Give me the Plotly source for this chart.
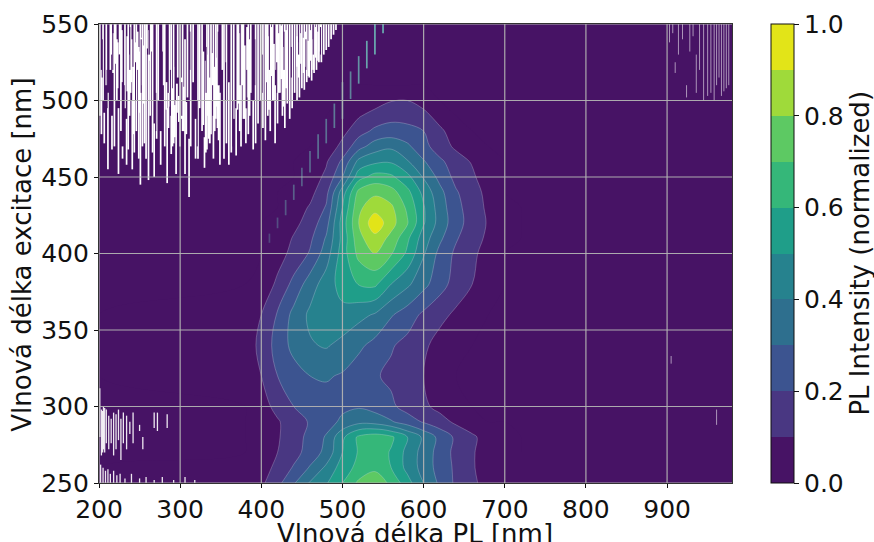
import plotly.graph_objects as go

FONT = "DejaVu Sans"

em_nm = [200, 380, 400, 420, 440, 460, 480, 500, 520, 540, 560, 580, 600, 620, 640, 660, 680, 700, 720, 980]
ex_nm = [250, 260, 270, 280, 290, 300, 320, 340, 360, 380, 400, 410, 420, 430, 440, 450, 460, 470, 480, 490, 500, 510, 550]

r250 = [0, .02, .08, .17, .29, .41, .49, .60, .72, .76, .68, .54, .40, .28, .18, .12, .06, .01, 0, 0]
r260 = [0, .01, .05, .13, .21, .31, .42, .55, .63, .68, .60, .47, .36, .26, .18, .11, .05, .01, 0, 0]
r270 = [0, 0, .03, .10, .165, .24, .33, .50, .61, .66, .59, .47, .36, .26, .17, .11, .05, .01, 0, 0]
r280 = [0, 0, .02, .09, .155, .23, .31, .48, .62, .66, .62, .50, .38, .27, .18, .12, .05, .01, 0, 0]
r290 = [0, 0, .02, .09, .15, .21, .26, .32, .37, .36, .31, .25, .19, .14, .08, .03, 0, 0, 0, 0]
r300 = [0, 0, .06, .13, .20, .24, .26, .28, .29, .26, .22, .16, .12, .07, .02, 0, 0, 0, 0, 0]
r320 = [0, .02, .10, .20, .26, .30, .31, .29, .25, .21, .18, .14, .10, .04, 0, 0, 0, 0, 0, 0]
r340 = [0, .04, .13, .24, .33, .39, .41, .37, .32, .27, .21, .17, .12, .06, .01, 0, 0, 0, 0, 0]
r360 = [0, .02, .10, .21, .33, .42, .45, .47, .43, .39, .31, .25, .18, .13, .08, .02, 0, 0, 0, 0]
r380 = [0, 0, .03, .12, .23, .35, .45, .54, .605, .62, .50, .42, .33, .24, .16, .10, .03, 0, 0, 0]
r400 = [0, 0, 0, .06, .13, .21, .35, .55, .73, .80, .71, .58, .41, .27, .18, .12, .06, 0, 0, 0]
r410 = [0, 0, 0, .03, .11, .18, .31, .53, .77, .87, .77, .62, .45, .32, .21, .14, .08, .01, 0, 0]
r420 = [0, 0, 0, .02, .07, .145, .26, .545, .80, .97, .84, .71, .51, .36, .24, .155, .09, .02, 0, 0]
r430 = [0, 0, 0, 0, .05, .11, .21, .50, .78, .86, .82, .68, .51, .35, .23, .15, .08, .01, 0, 0]
r440 = [0, 0, 0, 0, .02, .07, .17, .45, .73, .78, .74, .63, .47, .33, .21, .14, .07, 0, 0, 0]
r450 = [0, 0, 0, 0, 0, .05, .12, .30, .56, .64, .62, .53, .39, .27, .17, .12, .03, 0, 0, 0]
r460 = [0, 0, 0, 0, 0, .02, .09, .22, .43, .48, .49, .41, .31, .22, .15, .09, .02, 0, 0, 0]
r470 = [0, 0, 0, 0, 0, 0, .03, .13, .26, .35, .38, .32, .23, .15, .08, .02, 0, 0, 0, 0]
r480 = [0, 0, 0, 0, 0, 0, 0, .07, .16, .22, .24, .23, .20, .12, .05, 0, 0, 0, 0, 0]
r490 = [0, 0, 0, 0, 0, 0, 0, .02, .09, .14, .17, .165, .13, .06, 0, 0, 0, 0, 0, 0]
r500 = [0, 0, 0, 0, 0, 0, 0, 0, .02, .05, .095, .10, .06, 0, 0, 0, 0, 0, 0, 0]
r510 = [0] * 20
r550 = [0] * 20
pl_rows = [r250, r260, r270, r280, r290, r300, r320, r340, r360, r380, r400, r410, r420, r430,
           r440, r450, r460, r470, r480, r490, r500, r510, r550]

# Gaps in the measurement (white): emission nm, upper and lower excitation nm
gap_x = [201,203,205,206.5,209,211,214,216,219,222,224,227,229,232,234,236,239,241,243.5,246,249,251,253.5,256,258,261,263,266,268,271,273,276,279,281,284,287,289,292,295,297,300,303,306,309,311,313,316,319,322,324,327,330,333,335,338,341,344,346,349,352,354,357,360,363,366,369,372,375,378,381,384,387,390,393,396,399,402,405,408,411,414,417,420,423,426,429,432,435,438,441,444,447,450,453,456,459,462,465,468,471,474,477,480,483,486,489,492]
gap_top = [550,520,550,492,550,505,550,490,550,540,495,550,470,550,488,550,550,500,550,550,535,550,550,550,550,530,550,550,485,550,550,480,550,550,495,550,550,550,500,550,550,550,540,550,475,550,550,488,550,550,550,476,550,550,550,550,550,550,505,550,550,550,512,550,550,495,550,550,550,495,550,550,500,550,550,550,550,550,550,550,550,510,550,550,550,550,550,550,550,550,550,550,550,550,550,550,550,550,550,550,550,550,550,550,550,550,550]
gap_bot = [490,478,500,472,510,455,520,468,470,500,452,480,462,495,458,468,505,455,466,480,462,445,470,472,462,448,490,466,450,475,500,458,510,470,446,505,465,472,452,515,470,480,452,502,437,470,512,462,462,495,480,456,468,475,478,462,488,482,458,520,462,472,458,466,488,464,498,470,488,472,478,505,468,472,485,500,482,474,490,480,500,472,485,505,490,482,498,488,495,505,500,502,508,507,512,515,513,518,520,525,525,530,533,535,540,543,546]

# Denser runs of gaps between the streaks above
dense_x = [215,217.5,220.5,223,225.5,228,235,237.5,240,242,244.5,247.5,250,252.5,254.5,259,262,264.5,283,285.5,288,290.5,293.5,296,298.5,301.5,304.5,307.5,328.5,331.5,334,336.5,339.5,342.5,345,347.5,370.5,373.5,376.5,379.5,382.5,385.5,407,409.5,412.5,415.5,418.5,421.5,424.5,427.5,430.5,444,446,449,452,455,458,461,464,467,470,473]
dense_top = [550,544,550,538,550,546,542,530,540,522,538,545,532,541,536,550,546,550,512,505,514,508,497,511,503,515,509,499,532,526,530,515,531,522,528,510,550,544,550,536,548,540,550,542,548,537,550,544,549,535,546,542,538,544,541,545,539,546,540,548,545,550]
dense_bot = [530,518,524,508,530,512,506,490,512,478,500,520,492,510,498,534,526,532,494,482,496,470,476,492,486,488,480,478,484,466,490,472,500,480,496,474,494,480,510,488,502,490,512,494,516,500,520,505,514,496,508,522,515,524,518,522,516,526,520,528,526,532]

# Thin data strands crossing the white area
strand_x = [204,210,217,225,231,238,245,252,262,270,278,288,294,302,312,321,332,340,347,356,365,374,382,392,401,410,419,428,437,446,455,464,473]
strand_top = [540,520,550,530,510,548,525,540,550,505,532,520,550,512,545,500,535,510,545,525,500,550,520,540,530,550,525,545,535,550,540,550,548]
strand_bot = [515,495,520,500,480,520,500,505,530,480,500,490,522,490,520,470,505,490,510,500,470,510,495,510,505,520,505,520,515,530,520,530,530]

# Lower left corner and upper right corner
low_x = [201,203,204.5,205.5,207,209,212,215,218,221,224,227,230,234,238,242,250,254,268,272,284,202,205,208,211,214,218,222,226,232,240,250,258,268,278,292,306,318]
low_top = [312,298,297,300,299,298,294,292,296,295,298,292,296,294,290,296,288,280,296,296,295,262,260,258,259,256,258,255,256,253,256,253,254,252,254,252,254,252]
low_bot = [280,268,270,272,270,276,272,276,268,272,278,265,276,272,282,276,284,272,286,284,286,250,250,250,250,250,250,250,250,250,250,250,250,250,250,250,250,250]
right_x = [903,907,910,914,919,924,928,932,936,940,945,950,954,958,961,964,967,970,973,976,961,905]
right_top = [550,550,525,550,550,510,550,550,530,550,550,550,550,550,550,550,550,550,550,550,298,333]
right_bot = [538,544,518,530,540,502,532,542,505,520,500,503,505,500,510,515,503,506,508,510,288,328]

# Scattered excitation light along the diagonal
scatter_nm = [410, 420, 430, 440, 450, 460, 470, 480, 490, 500, 510, 520, 530, 540, 550]
scatter_half = [3, 3.5, 5, 5, 6, 7, 8, 8, 8, 12, 9, 9, 9, 10, 6]
scatter_level = [.30, .35, .40, .45, .45, .50, .55, .55, .60, .65, .65, .75, .85, .9, .9]

x_ticks = [200, 300, 400, 500, 600, 700, 800, 900]
y_ticks = [250, 300, 350, 400, 450, 500, 550]
cb_ticks = [0, .2, .4, .6, .8, 1.0]
band_colors = ["#471365", "#493782", "#3c5490", "#2e6f8e", "#26828e", "#1f9e89", "#35b779", "#5dc963", "#9fda3a", "#e2e418"]

scale = []
for i, c in enumerate(band_colors):
    scale += [[i / 10, c], [(i + 1) / 10, c]]

fig = go.Figure()
fig.add_trace(go.Contour(
    x=em_nm, y=ex_nm, z=pl_rows, zmin=0, zmax=1, colorscale=scale,
    contours=dict(start=0, end=1, size=.1, coloring="fill", showlines=False),
    line=dict(width=0, smoothing=1.0),
    colorbar=dict(x=(771 - 99) / 633, xanchor="left", xpad=0, y=0, yanchor="bottom", ypad=0, len=1,
                  thickness=23, outlinecolor="#111", outlinewidth=1, tickvals=cb_ticks,
                  tickformat=".1f", ticks="outside", ticklen=5, tickcolor="#111",
                  tickfont=dict(family=FONT, size=25, color="#111")),
    hoverinfo="skip",
))
fig.add_trace(go.Contour(
    x=em_nm, y=ex_nm, z=pl_rows, zmin=0, zmax=1, showscale=False,
    contours=dict(start=.1, end=.9, size=.1, coloring="none"),
    line=dict(width=.7, color="rgba(225,225,235,.38)", smoothing=1.0),
    hoverinfo="skip",
))


def segments(xs, tops, bots):
    px, py = [], []
    for x, t, b in zip(xs, tops, bots):
        px += [x, x, None]
        py += [t, b, None]
    return px, py


for xs, ts, bs, color, w in [
    (gap_x, gap_top, gap_bot, "white", 1.7),
    (dense_x, dense_top, dense_bot, "white", 1.9),
    (strand_x, strand_top, strand_bot, band_colors[0], 1.0),
    (low_x, low_top, low_bot, "rgba(255,255,255,.9)", 1.3),
    (right_x, right_top, right_bot, "rgba(255,255,255,.55)", 1.0),
]:
    gx, gy = segments(xs, ts, bs)
    fig.add_trace(go.Scatter(x=gx, y=gy, mode="lines", line=dict(color=color, width=w),
                             hoverinfo="skip", showlegend=False))

for nm, half, level in zip(scatter_nm, scatter_half, scatter_level):
    fig.add_trace(go.Scatter(x=[nm, nm], y=[nm - half, nm + half], mode="lines",
                             line=dict(color=f"rgba(110,190,185,{level})", width=1.7),
                             hoverinfo="skip", showlegend=False))

grid = dict(color="rgba(178,178,178,.95)", width=1.2)
for t in x_ticks:
    fig.add_shape(type="line", xref="x", yref="paper", x0=t, x1=t, y0=0, y1=1, line=grid, layer="above")
for t in y_ticks:
    fig.add_shape(type="line", xref="paper", yref="y", x0=0, x1=1, y0=t, y1=t, line=grid, layer="above")

title_font = dict(family=FONT, size=26, color="#111")


def label(text, px, py, angle):
    return dict(text=text, xref="paper", yref="paper", x=(px - 99) / 633, y=(483 - py) / 459,
                textangle=angle, showarrow=False, xanchor="center", yanchor="middle", font=title_font)


axis = dict(automargin=False, ticks="outside", ticklen=4, tickcolor="#111", linecolor="#333", linewidth=1.2, mirror=True,
            showgrid=False, zeroline=False, tickfont=dict(family=FONT, size=25, color="#111"), layer="above traces")
fig.update_layout(
    width=874, height=542, autosize=False,
    margin=dict(l=99, r=142, t=24, b=59),
    paper_bgcolor="white", plot_bgcolor="white",
    showlegend=False,
    xaxis=dict(range=[200, 980], tickvals=x_ticks, ticktext=[str(t) for t in x_ticks], **axis),
    yaxis=dict(range=[250, 550], tickvals=y_ticks, ticktext=[str(t) for t in y_ticks], **axis),
    annotations=[
        label("Vlnová délka PL [nm]", 414.5, 533.5, 0),
        label("Vlnová délka excitace [nm]", 21.7, 255, -90),
        label("PL Intensity (normalized)", 860.3, 253.3, -90),
    ],
)
fig.write_html("out.html", config=dict(displayModeBar=False),
               post_script="document.body.style.margin='0';document.documentElement.style.overflow='hidden';")
